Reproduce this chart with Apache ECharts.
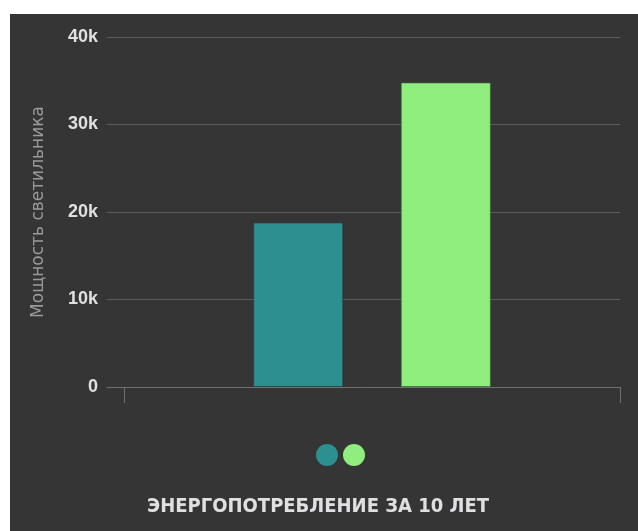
<!DOCTYPE html>
<html>
<head>
<meta charset="utf-8">
<script src="https://cdn.jsdelivr.net/npm/echarts@6/dist/echarts.min.js"></script>
<style>
  html, body { margin: 0; padding: 0; background: #fff; }
  #chart {
    position: absolute;
    left: 10px;
    top: 14px;
    width: 628px;
    height: 517px;
    background: #353535;
  }
</style>
</head>
<body>
<div id="chart"></div>
<script>
// данные
var categories = ['10 лет']
var seriesNames = ['Светильник 1', 'Светильник 2']
var seriesA = [18800]
var seriesB = [34800]
var yTicks = [0, 10000, 20000, 30000, 40000]

var colors = ['#2b908f', '#90ee7e']

var chart = echarts.init(document.getElementById('chart'))

var option = {
  animation: false,
  color: colors,
  title: {
    text: 'ЭНЕРГОПОТРЕБЛЕНИЕ ЗА 10 ЛЕТ',
    left: 132,
    top: 478,
    textStyle: {
      color: '#e0e0e3',
      fontFamily: "'DejaVu Sans Condensed', 'Liberation Sans', sans-serif",
      fontWeight: 'bold',
      fontSize: 20
    }
  },
  legend: {
    left: 301,
    top: 425,
    icon: 'circle',
    itemWidth: 22,
    itemHeight: 22,
    itemGap: 5,
    itemStyle: { borderWidth: 0 },
    formatter: function () { return '' },
    data: seriesNames
  },
  grid: [
    // сетка и линия оси
    { left: 97, right: 18, top: 23, bottom: 144 },
    // столбцы и засечки
    { left: 114, right: 18, top: 23, bottom: 144 }
  ],
  xAxis: [
    {
      gridIndex: 0,
      type: 'value',
      min: 0,
      max: 1,
      axisLine: { show: true, lineStyle: { color: '#707073', width: 1 } },
      axisTick: { show: false },
      axisLabel: { show: false },
      splitLine: { show: false }
    },
    {
      gridIndex: 1,
      type: 'category',
      data: categories,
      axisLine: { show: false },
      axisTick: { show: true, length: 16, lineStyle: { color: '#707073' } },
      axisLabel: { show: false }
    }
  ],
  yAxis: [
    {
      gridIndex: 0,
      type: 'value',
      min: yTicks[0],
      max: yTicks[yTicks.length - 1],
      interval: 10000,
      name: 'Мощность светильника',
      nameLocation: 'middle',
      nameGap: 60,
      nameTextStyle: {
        color: '#9a9a9a',
        fontFamily: 'DejaVu Sans',
        fontSize: 17
      },
      axisLine: { show: false },
      axisTick: { show: false },
      axisLabel: {
        margin: 9,
        color: '#e0e0e3',
        fontFamily: 'Liberation Sans',
        fontWeight: 'bold',
        fontSize: 18,
        formatter: function (v) { return v === 0 ? '0' : (v / 1000) + 'k' }
      },
      splitLine: { lineStyle: { color: '#5c5c5e', width: 1 } }
    },
    {
      gridIndex: 1,
      type: 'value',
      min: yTicks[0],
      max: yTicks[yTicks.length - 1],
      interval: 10000,
      show: false,
      splitLine: { show: false }
    }
  ],
  series: [
    {
      name: seriesNames[0],
      type: 'bar',
      xAxisIndex: 1,
      yAxisIndex: 1,
      barWidth: 90,
      barGap: '64%',
      itemStyle: { borderColor: 'rgba(40,60,60,0.6)', borderWidth: 1 },
      data: seriesA
    },
    {
      name: seriesNames[1],
      type: 'bar',
      xAxisIndex: 1,
      yAxisIndex: 1,
      barWidth: 90,
      barGap: '64%',
      itemStyle: { borderColor: 'rgba(60,110,60,0.6)', borderWidth: 1 },
      data: seriesB
    }
  ]
}

chart.setOption(option)
window.onresize = chart.resize
</script>
</body>
</html>
